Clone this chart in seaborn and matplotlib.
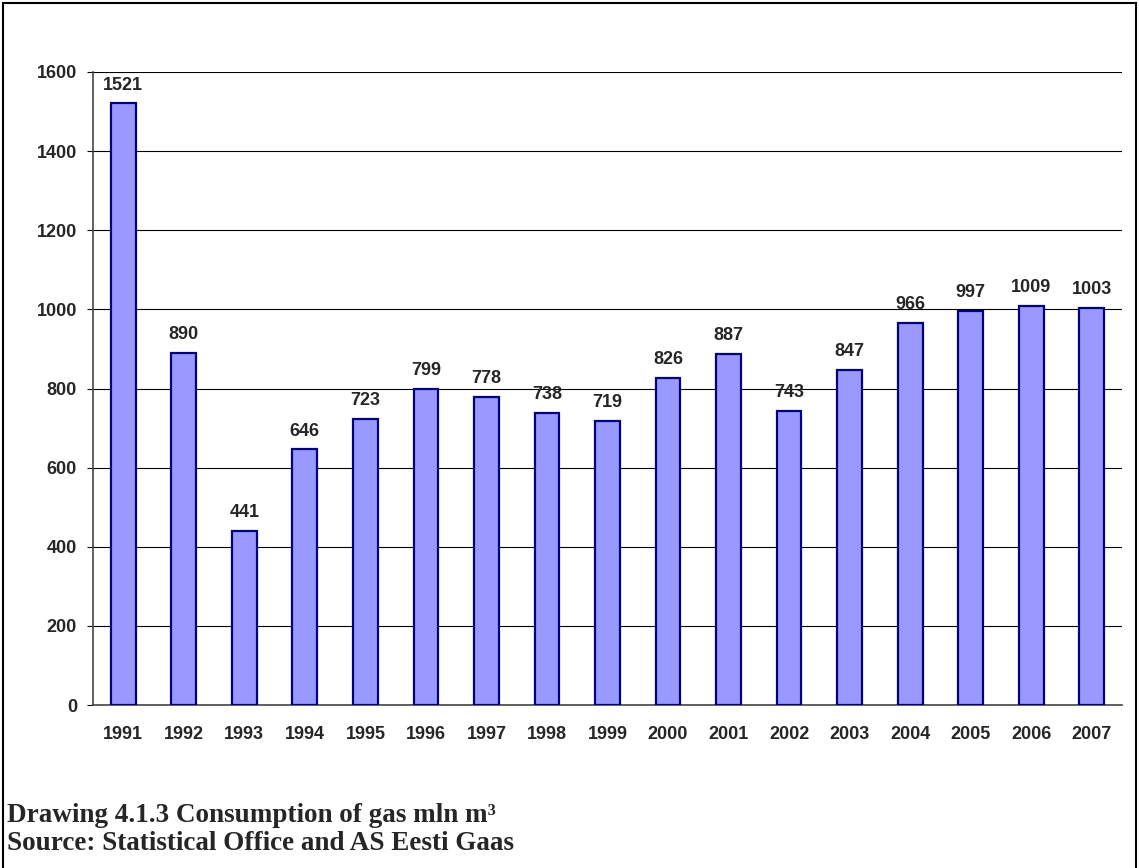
import seaborn as sns
import matplotlib.pyplot as plt
import pandas as pd
from matplotlib.patches import Rectangle

years = [str(y) for y in range(1991, 2008)]
consumption = [1521, 890, 441, 646, 723, 799, 778, 738, 719, 826, 887, 743, 847, 966, 997, 1009, 1003]
y_ticks = [0, 200, 400, 600, 800, 1000, 1200, 1400, 1600]

df = pd.DataFrame({"year": years, "gas": consumption})

sns.set_style("white")
plt.rcParams["font.family"] = ["Liberation Sans", "DejaVu Sans"]

W, H = 1139, 868
fig = plt.figure(figsize=(W / 100, H / 100), dpi=100)
# plot area in pixels: x 93..1122, y 72..705
ax = fig.add_axes([93 / W, 1 - 705 / H, (1122 - 93) / W, (705 - 72) / H])

sns.barplot(data=df, x="year", y="gas", color="#9999ff", edgecolor="#000080",
            linewidth=1.6, width=0.41, saturation=1, ax=ax, zorder=3)

ax.set_ylim(0, 1600)
ax.set_xlim(-0.5, len(years) - 0.5)
ax.set_yticks(y_ticks)
ax.yaxis.grid(True, color="black", linewidth=0.8, zorder=0)
ax.set_axisbelow(True)
for s in ["top", "right"]:
    ax.spines[s].set_visible(False)
for s in ["left", "bottom"]:
    ax.spines[s].set_color("#444444")
    ax.spines[s].set_linewidth(1.2)
ax.tick_params(axis="y", length=4.5, width=0.8, color="black", labelsize=13, pad=7, direction="out", left=True)
ax.tick_params(axis="x", length=0, labelsize=13, pad=15)
for lbl in ax.get_xticklabels() + ax.get_yticklabels():
    lbl.set_fontweight("bold")
ax.set_xlabel("")
ax.set_ylabel("")

# value labels above bars
for i, v in enumerate(consumption):
    ax.annotate(str(v), (i, v), xytext=(0, 7), textcoords="offset points",
                ha="center", va="bottom", fontsize=13, fontweight="bold")

fig.text(7 / W, 1 - 822 / H, "Drawing 4.1.3 Consumption of gas mln m³",
         family=["Liberation Serif", "DejaVu Serif"], fontsize=19.5, fontweight="bold", va="baseline")
fig.text(7 / W, 1 - 850 / H, "Source: Statistical Office and AS Eesti Gaas",
         family=["Liberation Serif", "DejaVu Serif"], fontsize=19.5, fontweight="bold", va="baseline")

fig.patches.append(Rectangle((3 / W, -0.01), (1136 - 3) / W, 1.01 - 3 / H,
                             transform=fig.transFigure, fill=False,
                             edgecolor="black", linewidth=1.5))

fig.savefig("out.png", dpi=100)
